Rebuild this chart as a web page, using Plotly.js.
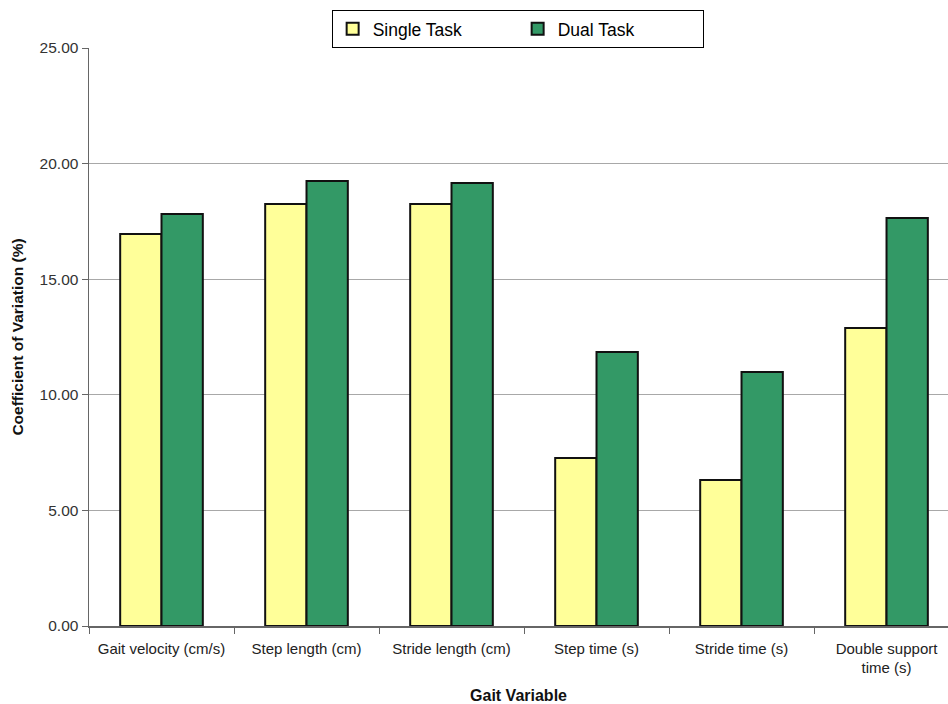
<!DOCTYPE html>
<html>
<head>
<meta charset="utf-8">
<script src="https://cdn.plot.ly/plotly-3.0.1.min.js"></script>
<style>html,body{margin:0;padding:0;background:#fff;}#chart{width:948px;height:704px;}</style>
</head>
<body>
<div id="chart"></div>
<script>
const categories = ["Gait velocity (cm/s)", "Step length (cm)", "Stride length (cm)", "Step time (s)", "Stride time (s)", "Double support<br>time (s)"];
const singleTask = [16.95, 18.25, 18.25, 7.27, 6.31, 12.89];
const dualTask = [17.82, 19.25, 19.16, 11.85, 10.99, 17.65];
const yTicks = [0, 5, 10, 15, 20, 25];
const yTickLabels = ["0.00", "5.00", "10.00", "15.00", "20.00", "25.00"];

const traces = [
  {type: "bar", name: "Single Task", x: categories, y: singleTask,
   marker: {color: "#ffff99", line: {color: "#111", width: 2}}},
  {type: "bar", name: "Dual Task", x: categories, y: dualTask,
   marker: {color: "#339966", line: {color: "#111", width: 2}}}
];

const layout = {
  width: 948, height: 704,
  margin: {l: 89, r: 0, t: 48, b: 78},
  paper_bgcolor: "#fff", plot_bgcolor: "#fff",
  font: {family: "Liberation Sans, Arial, sans-serif", color: "#222"},
  barmode: "group",
  bargap: 0.43, bargroupgap: 0,
  showlegend: true,
  legend: {orientation: "h", x: 0.499, xanchor: "center", y: 1.066, yanchor: "top",
           bordercolor: "#000", borderwidth: 1, bgcolor: "#fff",
           font: {size: 17.5, color: "#000"}, entrywidth: 140, traceorder: "normal",
           itemwidth: 30},
  xaxis: {type: "category", range: [-0.5, 5.424],
          showline: true, linecolor: "#666", linewidth: 1.5,
          ticks: "outside", tickson: "boundaries", ticklen: 6, tickcolor: "#666",
          ticklabelstandoff: 8,
          tickfont: {size: 15, color: "#222"},
          title: {text: "<b>Gait Variable</b>", font: {size: 16, color: "#111"}, standoff: 22},
          automargin: false},
  yaxis: {range: [0, 25], tickvals: yTicks, ticktext: yTickLabels,
          showline: true, linecolor: "#666", linewidth: 1.5,
          ticks: "outside", ticklen: 6, tickcolor: "#666",
          showgrid: true, gridcolor: "#a8a8a8", gridwidth: 1,
          zeroline: false,
          tickfont: {size: 15.5, color: "#333"},
          title: {text: "<b>Coefficient of Variation (%)</b>", font: {size: 15.5, color: "#111"}, standoff: 12},
          automargin: false}
};

Plotly.newPlot("chart", traces, layout, {displayModeBar: false, staticPlot: true});
</script>
</body>
</html>
